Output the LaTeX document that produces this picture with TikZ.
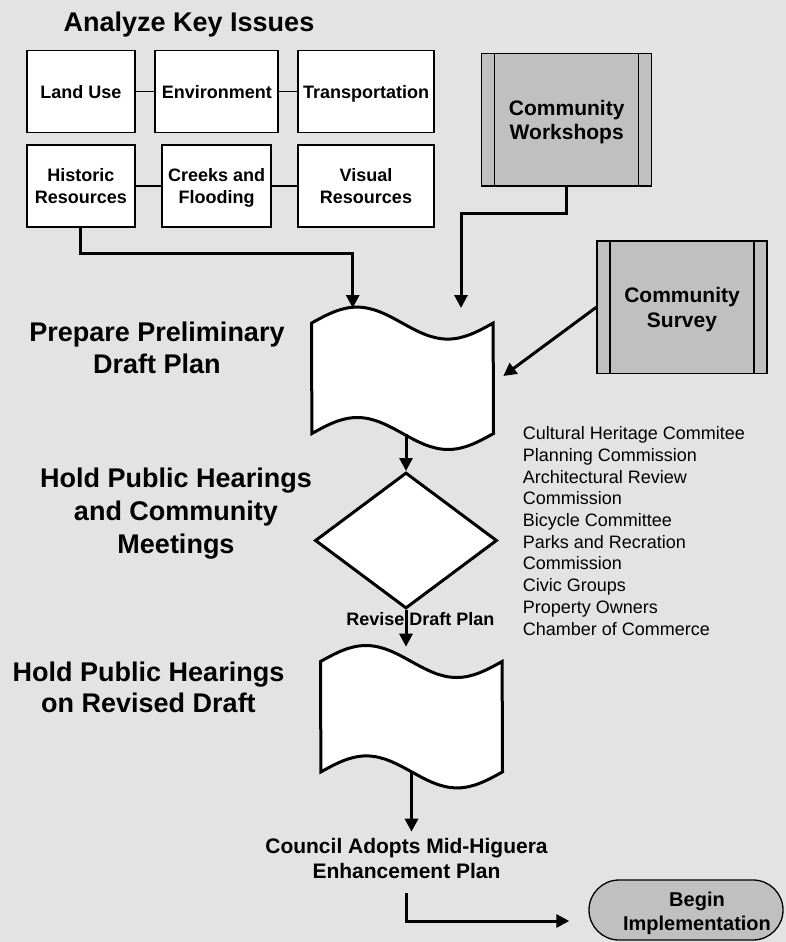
\documentclass[tikz,border=0pt]{standalone}
\usepackage{fontspec}
\setmainfont{Liberation Sans}
\usetikzlibrary{arrows.meta,shapes.geometric,shapes.misc}
\definecolor{bg}{RGB}{227,227,227}
\definecolor{boxgray}{RGB}{192,192,192}
\newcommand\flagshape[1]{%
  \draw[shapeline] (#1.north west) sin ++(45.4,-16) cos ++(45.4,16) sin ++(45.4,16) cos ++(45.4,-16)
    -- (#1.south east) sin ++(-45.4,16) cos ++(-45.4,-16) sin ++(-45.4,-16) cos ++(-45.4,16) -- cycle;}
\begin{document}
\begin{tikzpicture}[x=1pt,y=-1pt,
  issue/.style={draw, line width=1.8pt, fill=white, inner sep=0pt, align=center, text depth=0pt,
    font=\fontsize{18}{21.7}\selectfont\bfseries, minimum height=82pt},
  heading/.style={font=\fontsize{27}{32}\selectfont\bfseries, align=center, anchor=base, inner sep=0pt},
  source/.style={draw, line width=1.3pt, fill=boxgray, inner sep=0pt, minimum width=170pt, text depth=0pt,
    minimum height=132.5pt, align=center, font=\fontsize{21}{24.5}\selectfont\bfseries},
  strip/.style={line width=1.3pt},
  link/.style={line width=1.8pt},
  conn/.style={line width=3pt, -{Triangle[length=13pt,width=13pt]}},
  shapeline/.style={draw, line width=3pt, fill=white},
  anchorbox/.style={inner sep=0pt, minimum width=181.6pt, minimum height=110pt},
  label/.style={anchor=base, inner sep=0pt, align=center}
]
\fill[bg] (0,0) rectangle (786,942);
\useasboundingbox (0,0) rectangle (786,942);

% Analyze key issues
\node[heading] (analyze) at (189,31.7) {Analyze Key Issues};
\node[issue, minimum width=108.3pt] (landuse) at (80.85,91.5) {Land Use};
\node[issue, minimum width=123pt] (environment) at (216.8,91.5) {Environment};
\node[issue, minimum width=136.6pt] (transport) at (366,91.5) {Transportation};
\node[issue, minimum width=108.3pt] (historic) at (80.85,186.3) {Historic\\Resources};
\node[issue, minimum width=108.7pt] (creeks) at (216.7,186.3) {Creeks and\\Flooding};
\node[issue, minimum width=136.6pt] (visual) at (366,186.3) {Visual\\Resources};
\draw[link] (landuse) -- (environment);
\draw[link] (environment) -- (transport);
\draw[link] (historic) -- (creeks);
\draw[link] (creeks) -- (visual);

% community inputs
\node[source] (workshops) at (566.7,119.7) {Community\\Workshops};
\draw[strip] ([xshift=13.7pt]workshops.north west) -- ([xshift=13.7pt]workshops.south west);
\draw[strip] ([xshift=-13.7pt]workshops.north east) -- ([xshift=-13.7pt]workshops.south east);
\node[source] (survey) at (682,307.2) {Community\\Survey};
\draw[strip] ([xshift=13.7pt]survey.north west) -- ([xshift=13.7pt]survey.south west);
\draw[strip] ([xshift=-13.7pt]survey.north east) -- ([xshift=-13.7pt]survey.south east);

% headings (base = baseline of last line)
\node[heading] (prepare) at (157,373.3) {Prepare Preliminary\\Draft Plan};
\node[heading, font=\fontsize{27}{33}\selectfont\bfseries] (hold1) at (176,553) {Hold Public Hearings\\and Community\\Meetings};
\node[heading, font=\fontsize{27}{31}\selectfont\bfseries] (hold2) at (148.5,712.7) {Hold Public Hearings\\on Revised Draft};

% draft plan
\node[anchorbox] (draft) at (402.5,378.3) {};
\flagshape{draft}

% decision diamond
\node[draw, diamond, line width=3pt, fill=white, minimum width=182pt, minimum height=136pt, inner sep=0pt] (decide) at (406,540.5) {};

% revised draft
\node[anchorbox] (revised) at (411.5,716.7) {};
\flagshape{revised}

% list of bodies
\node[font=\fontsize{18}{21.7}\selectfont, align=left, anchor=base west, inner sep=0pt] (bodies) at (522.7,635)
  {Cultural Heritage Commitee\\Planning Commission\\Architectural Review\\Commission\\Bicycle Committee\\Parks and Recration\\Commission\\Civic Groups\\Property Owners\\Chamber of Commerce};

% council and implementation
\node[label, font=\fontsize{21}{25}\selectfont\bfseries] (council) at (406.5,878.3) {Council Adopts Mid-Higuera\\Enhancement Plan};
\node[draw, rounded rectangle, line width=1.3pt, fill=boxgray, minimum width=194pt, minimum height=60pt, inner sep=0pt] (begin) at (686,910) {};
\node[label, font=\fontsize{20}{23.3}\selectfont\bfseries] (beginlbl) at (697,930) {Begin\\Implementation};

% free ends of connectors
\coordinate (t1) at (352.7,308);
\coordinate (t2) at (461,308);
\coordinate (t3) at (503.3,376);
\coordinate (t4) at (406,646.7);
\coordinate (t5) at (411.5,831.7);
\coordinate (c1) at (406.7,893.3);
\coordinate (t6) at (569.3,921);

% connectors
\draw[conn] (historic.south) -- ++(0,25.6) -| (t1);
\draw[conn] (workshops.south) -- ++(0,27.3) -| (t2);
\draw[conn] (survey.west) -- (t3);
\draw[conn] (draft.south -| decide.north) -- (decide.north);
\draw[conn] (decide.south) -- (t4);
\node[label, font=\fontsize{18}{21}\selectfont\bfseries] (revise) at (420.3,625) {Revise Draft Plan};
\draw[conn] (revised.south) -- (t5);
\draw[conn] (c1) |- (t6);
\end{tikzpicture}
\end{document}
